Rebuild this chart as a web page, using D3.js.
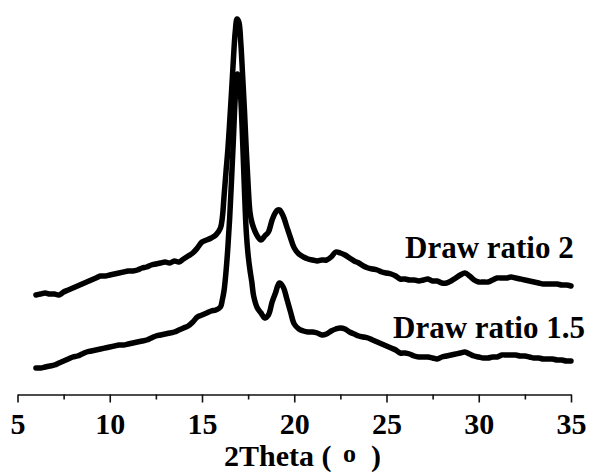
<!DOCTYPE html>
<html>
<head>
<meta charset="utf-8">
<script src="https://cdn.jsdelivr.net/npm/d3@7"></script>
<style>
  html, body { margin: 0; padding: 0; background: #fff; }
  svg { display: block; }
</style>
</head>
<body>
<svg id="chart" width="594" height="474"></svg>
<script>
// 2Theta grid (degrees)
const twoTheta = [
  6, 6.25, 6.5, 6.75, 7, 7.25, 7.5, 7.75, 8, 8.25, 8.5, 8.75, 9, 9.25, 9.5, 9.75,
  10, 10.25, 10.5, 10.75, 11, 11.25, 11.5, 11.75, 12, 12.25, 12.5, 12.75, 13, 13.25, 13.5, 13.75,
  14, 14.25, 14.5, 14.75, 15, 15.25, 15.5, 15.75,
  16.0, 16.1, 16.2, 16.3, 16.4, 16.5, 16.6, 16.7, 16.8, 16.9, 17.0, 17.1, 17.2, 17.3, 17.4, 17.5, 17.6, 17.7,
  17.8, 18.0, 18.2, 18.4, 18.6, 18.8, 19.0,
  19.1, 19.2,
  19.4, 19.6, 19.8, 20.0,
  20.25, 20.5, 20.75, 21, 21.25, 21.5, 21.75, 22, 22.25, 22.5, 22.75, 23, 23.25, 23.5, 23.75,
  24, 24.25, 24.5, 24.75, 25, 25.25, 25.5, 25.75, 26, 26.25, 26.5, 26.75, 27, 27.25, 27.5, 27.75,
  28, 28.25, 28.5, 28.75, 29, 29.25, 29.5, 29.75, 30, 30.25, 30.5, 30.75, 31, 31.25, 31.5, 31.75,
  32, 32.25, 32.5, 32.75, 33, 33.25, 33.5, 33.75, 34, 34.25, 34.5, 34.75, 35
];

// Intensity (a.u.) — Draw ratio 2
const drawRatio2 = [
  100, 101, 102, 101, 101, 100, 103, 105, 107, 109, 111, 113, 115, 117, 119, 119,
  120, 121, 122, 123, 124, 124, 125, 127, 128, 130, 131, 132, 133, 132, 134, 133,
  136, 139, 142, 147, 153, 155, 157, 160,
  167, 177, 200, 223, 245, 273, 303, 335, 363, 376, 373, 353, 320, 285, 245, 210, 183, 173,
  167, 159, 155, 159, 163, 175, 183,
  185, 185,
  179, 168, 157, 147,
  141, 138, 136, 135, 134, 135, 135, 138, 143, 142, 140, 137, 134, 132, 129,
  127, 126, 125, 123, 122, 121, 119, 116, 116, 115, 115, 114, 115, 116, 114, 114,
  112, 112, 114, 117, 120, 122, 119, 115, 113, 113, 113, 115, 117, 117, 117, 118,
  117, 116, 115, 114, 113, 112, 111, 111, 111, 111, 110, 110, 109
];

// Intensity (a.u.) — Draw ratio 1.5
const drawRatio15 = [
  27, 27, 28, 29, 30, 32, 34, 36, 38, 39, 41, 43, 44, 45, 46, 47,
  48, 49, 50, 50, 51, 52, 53, 54, 55, 57, 59, 60, 61, 62, 63, 65,
  67, 69, 73, 78, 80, 82, 84, 85,
  88, 95, 105, 123, 147, 177, 215, 255, 297, 321, 319, 297, 255, 205, 163, 140, 125, 113,
  99, 87, 82, 77, 80, 93, 103,
  109, 112,
  108, 96, 83, 71,
  66, 64, 63, 63, 62, 60, 61, 64, 66, 67, 66, 63, 61, 59, 58,
  57, 55, 53, 51, 49, 47, 45, 42, 42, 41, 39, 38, 38, 38, 37, 36,
  38, 39, 40, 41, 42, 43, 41, 39, 38, 37, 37, 38, 38, 40, 40, 40,
  40, 39, 39, 38, 37, 37, 36, 36, 36, 35, 35, 34, 34
];

const majorTicks = [5, 10, 15, 20, 25, 30, 35];
const tickLabels = ["5", "10", "15", "20", "25", "30", "35"];
const minorTicks = [7.5, 12.5, 17.5, 22.5, 27.5, 32.5];
const seriesNames = ["Draw ratio 2", "Draw ratio 1.5"];

const svg = d3.select("#chart");
const FONT = "'Liberation Serif', 'Times New Roman', serif";

const x = d3.scaleLinear().domain([5, 35]).range([17.5, 571]);
const y = d3.scaleLinear().domain([0, 380]).range([395, 15]);
const axisY = 394.5;

// minor ticks
svg.append("g")
  .attr("transform", `translate(0,${axisY})`)
  .call(d3.axisBottom(x).tickValues(minorTicks).tickSize(5).tickSizeOuter(0).tickFormat(""))
  .call(g => g.select(".domain").remove())
  .call(g => g.selectAll("line").attr("stroke", "#111").attr("stroke-width", 1.6));

// major axis
const ax = svg.append("g")
  .attr("transform", `translate(0,${axisY})`)
  .call(d3.axisBottom(x).tickValues(majorTicks).tickSize(8).tickSizeOuter(0)
        .tickFormat((d, i) => tickLabels[i]));
ax.select(".domain").attr("stroke", "#111").attr("stroke-width", 1.6);
ax.selectAll(".tick line").attr("stroke", "#111").attr("stroke-width", 1.6);
ax.selectAll(".tick text")
  .attr("y", 39).attr("dy", 0)
  .attr("fill", "#000")
  .style("font-family", FONT).style("font-weight", "bold").style("font-size", "30px");

// axis title
const title = svg.append("text")
  .attr("fill", "#000")
  .style("font-family", FONT).style("font-weight", "bold").style("font-size", "30px");
title.append("tspan").attr("x", 224).attr("y", 466).text("2Theta (");
title.append("tspan").attr("x", 343).attr("y", 462).style("font-size", "26px").text("o");
title.append("tspan").attr("x", 371).attr("y", 466).text(")");

// curves
const line = d3.line()
  .x((d, i) => x(twoTheta[i]))
  .y(d => y(d))
  .curve(d3.curveCatmullRom.alpha(0.5));

[drawRatio2, drawRatio15].forEach(s => {
  svg.append("path")
    .datum(s)
    .attr("d", line)
    .attr("fill", "none")
    .attr("stroke", "#000")
    .attr("stroke-width", 5.5)
    .attr("stroke-linejoin", "round")
    .attr("stroke-linecap", "round");
});

// series labels
svg.append("text").attr("x", 405).attr("y", 258).text(seriesNames[0])
  .attr("fill", "#000")
  .style("font-family", FONT).style("font-weight", "bold").style("font-size", "31px");
svg.append("text").attr("x", 393).attr("y", 338).text(seriesNames[1])
  .attr("fill", "#000")
  .style("font-family", FONT).style("font-weight", "bold").style("font-size", "31px");
</script>
</body>
</html>
